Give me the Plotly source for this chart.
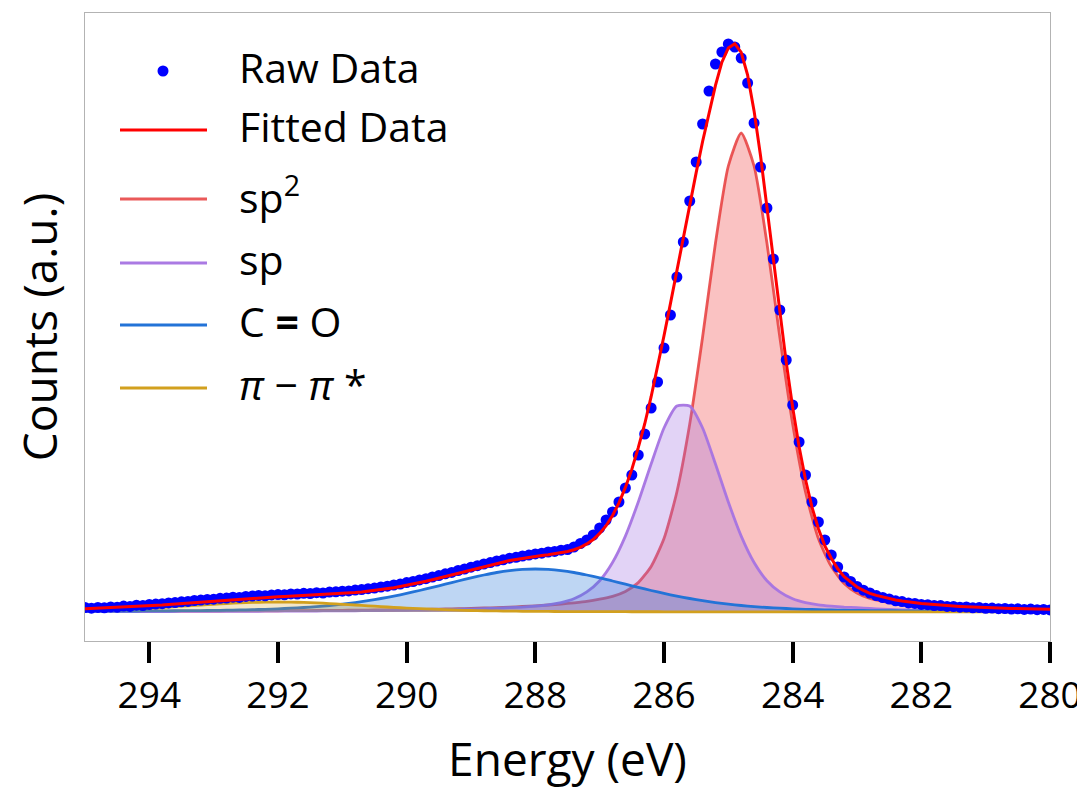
import plotly.graph_objects as go

# ---------------- data ----------------
# Raw spectrum and fitted envelope: 0.1 eV steps from 295.0 eV down to 280.0 eV
RAW_START_EV = 295.0
RAW_STEP_EV = 0.1
RAW_COUNTS = [
    4.5, 3.8, 4.6, 4.2, 5.1, 4.8, 5.9, 5.6, 6.8, 6.4,
    7.5, 7.9, 8.3, 9.1, 9.4, 10.2, 10.6, 11.5, 11.9, 12.6,
    12.8, 13.7, 13.9, 14.8, 14.6, 15.6, 15.9, 16.5, 16.2, 17.1,
    17.4, 17.2, 18.1, 18.0, 18.7, 18.5, 19.3, 19.0, 19.9, 20.2,
    20.8, 21.1, 21.9, 22.4, 23.3, 23.9, 25.0, 25.8, 27.0, 27.9,
    29.4, 30.5, 32.1, 33.3, 35.0, 36.4, 38.2, 39.6, 41.5, 43.0,
    44.8, 46.3, 48.0, 49.4, 51.0, 52.2, 53.8, 54.7, 56.0, 56.9,
    58.1, 58.8, 60.0, 60.6, 61.8, 62.5, 65.0, 68.5, 72.0, 77.0,
    84, 92, 100, 110, 124, 137, 157, 178, 204, 230,
    264, 297, 335, 370, 411, 450, 488, 521, 548, 560,
    568, 565, 554, 529, 489, 445, 404, 353, 302, 252,
    207, 170, 137, 110, 90, 72, 57, 45, 35, 30.5,
    25.5, 21.8, 19.0, 16.4, 14.5, 13.0, 11.2, 10.4, 9.1, 8.6,
    7.6, 7.3, 6.5, 6.4, 5.6, 5.5, 4.8, 5.0, 4.2, 4.4,
    3.7, 3.9, 3.3, 3.5, 2.9, 3.2, 2.6, 2.9, 2.3, 2.6,
    2.1,
]
FIT_COUNTS = [
    3.3, 3.55, 3.8, 4.05, 4.3, 4.6, 4.9, 5.2, 5.5, 5.9,
    6.3, 6.65, 7.0, 7.5, 8.0, 8.5, 9.0, 9.5, 10.0, 10.45,
    10.9, 11.4, 11.9, 12.4, 12.9, 13.4, 13.8, 14.2, 14.6, 14.95,
    15.3, 15.6, 15.9, 16.2, 16.5, 16.75, 17.0, 17.3, 17.6, 18.0,
    18.4, 18.9, 19.5, 20.1, 20.8, 21.6, 22.5, 23.4, 24.3, 25.5,
    26.7, 28.0, 29.3, 30.8, 32.3, 33.9, 35.6, 37.2, 38.8, 40.5,
    42.2, 43.9, 45.6, 47.1, 48.6, 50.1, 51.5, 52.6, 53.7, 54.7,
    55.7, 56.5, 57.3, 58.2, 59.3, 60.5, 62.3, 64.7, 68.1, 72.5,
    78.6, 86.3, 96.5, 109.1, 124.6, 142.6, 164.3, 188.0, 215.3, 244.5,
    276.3, 308.4, 342.1, 374.9, 407.7, 439.4, 470.5, 500.0, 526.6, 549.8,
    564.0, 568.3, 559.6, 536.8, 501.1, 456.5, 405.0, 351.7, 299.1, 249.6,
    204.5, 165.2, 132.2, 104.8, 83.2, 66.1, 53.7, 43.2, 35.3, 29.9,
    25.0, 21.6, 18.6, 16.6, 14.9, 13.4, 12.0, 10.9, 9.9, 9.2,
    8.5, 7.9, 7.3, 6.8, 6.3, 5.95, 5.6, 5.25, 4.9, 4.65,
    4.4, 4.15, 3.9, 3.75, 3.6, 3.45, 3.3, 3.15, 3.0, 2.85,
    2.7,
]

# Fitted components: 0.2 eV steps from 295.0 eV down to 280.0 eV
COMP_START_EV = 295.0
COMP_STEP_EV = 0.2
SP2 = [
    0.63, 0.66, 0.69, 0.72, 0.75, 0.78, 0.81, 0.85, 0.89, 0.93,
    0.98, 1.03, 1.08, 1.14, 1.20, 1.27, 1.34, 1.42, 1.50, 1.60,
    1.70, 1.82, 1.94, 2.08, 2.24, 2.40, 2.6, 2.8, 3.1, 3.3,
    3.6, 4.0, 4.4, 4.9, 5.5, 6.2, 7.0, 8.0, 9.2, 10.6,
    12.8, 15.7, 20.6, 29.4, 45.6, 73.5, 120, 188, 275, 369,
    446, 479, 446, 369, 275, 188, 120, 73.5, 45.6, 28.5,
    19.0, 13.5, 10.5, 8.2, 6.7, 5.6, 4.7, 4.0, 3.5, 3.0,
    2.6, 2.3, 2.0, 1.8, 1.6, 1.4,
]
SP = [
    0.38, 0.40, 0.42, 0.44, 0.46, 0.48, 0.50, 0.53, 0.56, 0.59,
    0.62, 0.65, 0.69, 0.73, 0.78, 0.83, 0.88, 0.94, 1.0, 1.09,
    1.17, 1.26, 1.36, 1.5, 1.6, 1.76, 1.9, 2.1, 2.35, 2.6,
    2.9, 3.3, 3.7, 4.3, 4.9, 5.9, 7.2, 9.4, 13.2, 20.1,
    31.3, 49.5, 75.9, 110, 148, 184, 206, 206, 184, 148,
    110, 75.9, 49.5, 31.3, 20.1, 13.2, 9.4, 7.2, 5.9, 4.9,
    4.3, 3.5, 2.9, 2.4, 2.0, 1.7, 1.5, 1.3, 1.15, 1.0,
    0.9, 0.82, 0.75, 0.7, 0.65, 0.6,
]
CO = [
    0.80, 0.84, 0.90, 0.95, 1.0, 1.07, 1.13, 1.25, 1.35, 1.45,
    1.6, 1.8, 2.05, 2.35, 2.7, 3.2, 3.8, 4.5, 5.4, 6.5,
    7.8, 9.4, 11.3, 13.5, 15.9, 18.6, 21.5, 24.6, 27.8, 31.0,
    34.2, 37.0, 39.5, 41.4, 42.6, 43.0, 42.6, 41.4, 39.5, 37.0,
    34.2, 31.0, 27.8, 24.6, 21.5, 18.6, 15.9, 13.5, 11.3, 9.4,
    7.8, 6.5, 5.4, 4.5, 3.8, 3.2, 2.7, 2.35, 2.05, 1.8,
    1.6, 1.45, 1.35, 1.25, 1.13, 1.07, 1.0, 0.95, 0.90, 0.84,
    0.80, 0.76, 0.72, 0.69, 0.65, 0.62,
]
PIPI = [
    1.5, 1.9, 2.3, 2.8, 3.3, 3.95, 4.6, 5.4, 6.2, 7.0,
    7.7, 8.45, 9.1, 9.6, 9.9, 10.0, 9.9, 9.6, 9.1, 8.45,
    7.7, 7.0, 6.2, 5.4, 4.6, 3.95, 3.3, 2.8, 2.3, 1.9,
    1.5, 1.27, 1.04, 0.87, 0.72, 0.62, 0.54, 0.46, 0.40, 0.36,
    0.33, 0.30, 0.28, 0.26, 0.24, 0.22, 0.21, 0.20, 0.19, 0.18,
    0.17, 0.16, 0.16, 0.15, 0.15, 0.14, 0.14, 0.13, 0.13, 0.12,
    0.12, 0.12, 0.11, 0.11, 0.10, 0.10, 0.10, 0.09, 0.09, 0.09,
    0.09, 0.08, 0.08, 0.08, 0.08, 0.07,
]

X_TICKS = [294, 292, 290, 288, 286, 284, 282, 280]
X_RANGE = [295, 280]
Y_RANGE = [-29, 599]

LABELS = ["Raw Data", "Fitted Data", "sp<sup>2</sup>", "sp", "C <b>=</b> O",
          "<i>π</i> − <i>π</i> *"]

# ---------------- styling ----------------
FONT = "Open Sans"
RAW_COLOR = "#0000ff"
FIT_COLOR = "#ff0000"
COMPONENTS = [
    (SP2, LABELS[2], "rgba(230,60,60,0.85)", "rgba(240,80,80,0.35)"),
    (SP, LABELS[3], "rgba(165,115,225,0.95)", "rgba(160,110,225,0.30)"),
    (CO, LABELS[4], "rgba(35,115,215,1)", "rgba(40,120,215,0.30)"),
    (PIPI, LABELS[5], "rgba(210,160,30,1)", "rgba(210,160,30,0.25)"),
]

energy_raw = [round(RAW_START_EV - i * RAW_STEP_EV, 2) for i in range(len(RAW_COUNTS))]
energy_comp = [round(COMP_START_EV - i * COMP_STEP_EV, 2) for i in range(len(SP2))]

fig = go.Figure()
for vals, name, lc, fc in COMPONENTS:
    fig.add_trace(go.Scatter(
        x=energy_comp, y=vals, name=name, mode="lines",
        line=dict(color=lc, width=2.8, shape="spline", smoothing=0.6),
        fill="tozeroy", fillcolor=fc, showlegend=False,
    ))

fig.add_trace(go.Scatter(
    x=energy_raw, y=RAW_COUNTS, name=LABELS[0], mode="markers",
    marker=dict(color=RAW_COLOR, size=11, line=dict(width=0)), showlegend=False,
))
fig.add_trace(go.Scatter(
    x=energy_raw, y=FIT_COUNTS, name=LABELS[1], mode="lines",
    line=dict(color=FIT_COLOR, width=3), showlegend=False,
))

# ---------------- figure geometry (page body adds an 8 px offset) ----------------
FIG_W, FIG_H = 1085, 784
PLOT_L, PLOT_R, PLOT_T, PLOT_B = 77, 1042, 5, 633   # plot area inside the figure


def px_x(px):
    return (px - PLOT_L) / (PLOT_R - PLOT_L)


def px_y(py):
    return (PLOT_B - py) / (PLOT_B - PLOT_T)


# ---------------- hand-drawn legend (long matplotlib-style sample lines) ----------------
legend_rows_py = [63, 122, 191, 255, 317, 380]
legend_line_colors = [None, FIT_COLOR] + [c[2] for c in COMPONENTS]
shapes = []
annotations = []
for i, (label, py) in enumerate(zip(LABELS, legend_rows_py)):
    if i == 0:
        shapes.append(dict(type="circle", xref="paper", yref="paper",
                           xsizemode="pixel", ysizemode="pixel",
                           xanchor=px_x(155), yanchor=px_y(py),
                           x0=-5.5, x1=5.5, y0=-5.5, y1=5.5,
                           fillcolor=RAW_COLOR, line=dict(width=0)))
    else:
        shapes.append(dict(type="line", xref="paper", yref="paper",
                           x0=px_x(112), x1=px_x(199), y0=px_y(py), y1=px_y(py),
                           line=dict(color=legend_line_colors[i], width=3)))
    annotations.append(dict(text=label, xref="paper", yref="paper",
                            x=px_x(229), y=px_y(py - 4), xanchor="left", yanchor="middle",
                            showarrow=False, font=dict(family=FONT, size=41, color="black")))

fig.update_layout(
    width=FIG_W, height=FIG_H,
    margin=dict(l=PLOT_L, r=FIG_W - PLOT_R, t=PLOT_T, b=FIG_H - PLOT_B, autoexpand=False),
    plot_bgcolor="white", paper_bgcolor="white",
    font=dict(family=FONT, color="black"),
    shapes=shapes, annotations=annotations,
    showlegend=False,
    xaxis=dict(
        range=X_RANGE, tickvals=X_TICKS, ticktext=[str(t) for t in X_TICKS],
        ticks="outside", ticklen=21, tickwidth=3.5, tickcolor="black",
        showline=True, linecolor="#b3b3b3", linewidth=1.3, mirror=True,
        showgrid=False, zeroline=False,
        tickfont=dict(family=FONT, size=37, color="black"),
        title=dict(text="Energy (eV)", font=dict(family=FONT, size=46, color="black"), standoff=26),
    ),
    yaxis=dict(
        range=Y_RANGE, showticklabels=False, ticks="",
        showline=True, linecolor="#b3b3b3", linewidth=1.3, mirror=True,
        showgrid=False, zeroline=False,
        title=dict(text="Counts (a.u.)", font=dict(family=FONT, size=46, color="black"), standoff=28),
    ),
)

fig.write_html("out.html")
